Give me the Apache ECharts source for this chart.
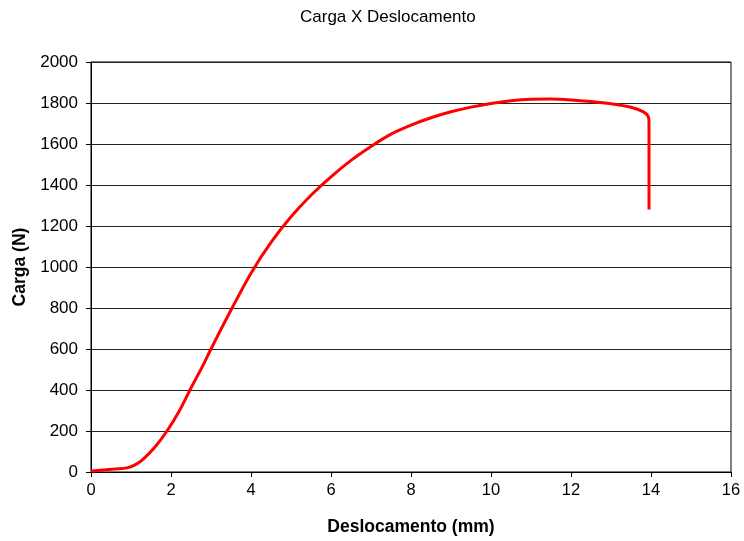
<!DOCTYPE html>
<html>
<head>
<meta charset="utf-8">
<script src="https://cdn.jsdelivr.net/npm/echarts@6/dist/echarts.min.js"></script>
<style>
  html, body { margin: 0; padding: 0; background: #fff; }
  #chart { width: 744px; height: 541px; }
</style>
</head>
<body>
<div id="chart"></div>
<script>
// deslocamento (mm) e carga (N)
var deslocamento = [0, 0.3, 0.6, 0.9, 1.1, 1.3, 1.6, 1.9, 2.2, 2.5, 2.8, 3.0, 3.5, 4.0, 4.5, 5.0, 5.5, 6.0, 6.5, 7.0, 7.5, 8.0, 8.5, 9.0, 9.5, 10.0, 10.5, 11.0, 11.5, 12.0, 12.5, 13.0, 13.5, 13.8, 13.93, 13.95, 13.95];
var carga = [5, 10, 15, 20, 35, 62, 122, 200, 295, 410, 520, 600, 790, 970, 1120, 1245, 1350, 1440, 1520, 1588, 1648, 1692, 1728, 1757, 1780, 1798, 1811, 1818, 1819, 1815, 1807, 1796, 1779, 1758, 1735, 1700, 1280];
var xTicks = { min: 0, max: 16, step: 2 };
var yTicks = { min: 0, max: 2000, step: 200 };

var fonte = 'Liberation Sans, Arial, sans-serif';
var pontos = deslocamento.map(function (x, i) { return [x, carga[i]]; });

var chart = echarts.init(document.getElementById('chart'), null, { renderer: 'canvas' });
var option = {
  backgroundColor: '#ffffff',
  animation: false,
  title: {
    text: 'Carga X Deslocamento',
    left: 295,
    top: 4,
    textStyle: { fontFamily: fonte, fontSize: 17, fontWeight: 'normal', color: '#000' }
  },
  grid: {
    left: 91,
    right: 13,
    top: 62,
    bottom: 69,
    show: true,
    borderColor: '#000',
    borderWidth: 1
  },
  xAxis: {
    type: 'value',
    min: xTicks.min,
    max: xTicks.max,
    interval: xTicks.step,
    name: 'Deslocamento (mm)',
    nameLocation: 'middle',
    nameGap: 46,
    nameTextStyle: { fontFamily: fonte, fontSize: 17.5, fontWeight: 'bold', color: '#000' },
    axisLine: { show: true, lineStyle: { color: '#000', width: 1 } },
    axisTick: { show: true, inside: false, length: 5, lineStyle: { color: '#000' } },
    axisLabel: { fontFamily: fonte, fontSize: 16.5, color: '#000', margin: 10 },
    splitLine: { show: false }
  },
  yAxis: {
    type: 'value',
    min: yTicks.min,
    max: yTicks.max,
    interval: yTicks.step,
    name: 'Carga (N)',
    nameLocation: 'middle',
    nameGap: 60,
    nameRotate: 90,
    nameTextStyle: { fontFamily: fonte, fontSize: 17.5, fontWeight: 'bold', color: '#000' },
    axisLine: { show: true, lineStyle: { color: '#000', width: 1 } },
    axisTick: { show: true, inside: false, length: 5, lineStyle: { color: '#000' } },
    axisLabel: {
      fontFamily: fonte, fontSize: 17, color: '#000', margin: 13,
      formatter: function (v) { return String(v); }
    },
    splitLine: { show: true, lineStyle: { color: '#222', width: 1 } }
  },
  series: [{
    type: 'line',
    data: pontos,
    showSymbol: false,
    smooth: 0.3,
    lineStyle: { color: '#ff0000', width: 3 },
    itemStyle: { color: '#ff0000' }
  }]
};
chart.setOption(option);
</script>
</body>
</html>
